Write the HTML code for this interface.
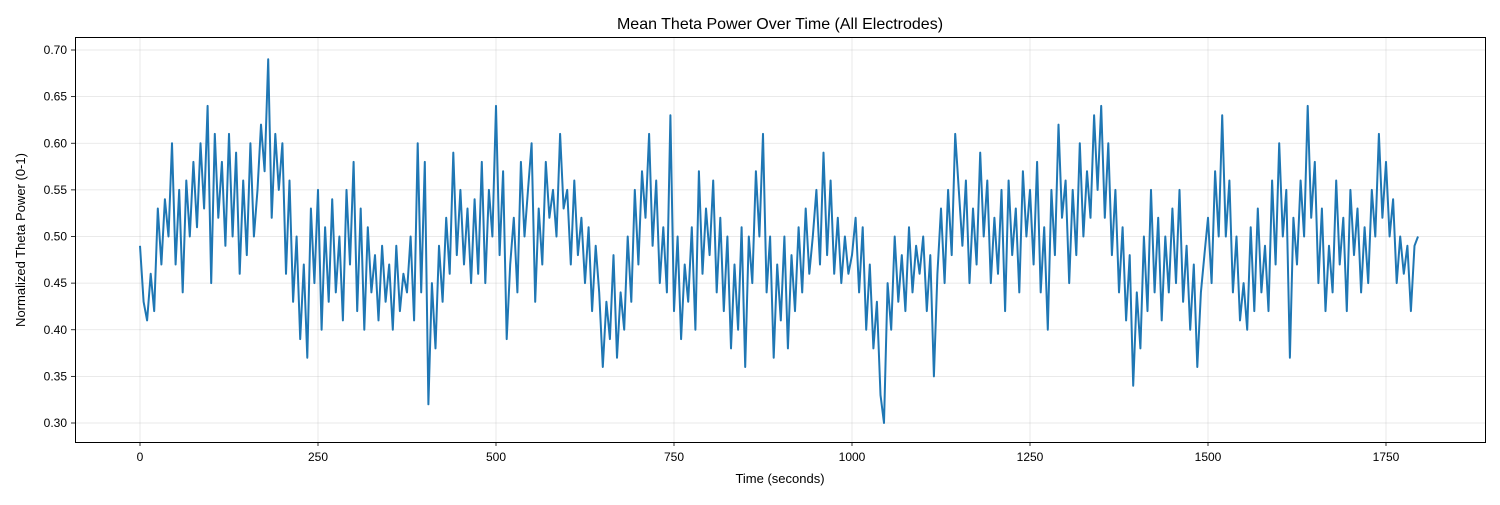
<!DOCTYPE html>
<html><head><meta charset="utf-8"><style>
body{margin:0;background:#fff;}
svg text{font-family:"Liberation Sans","DejaVu Sans",sans-serif;fill:#000;}
</style></head><body>
<svg id="chart" width="1500" height="500" xmlns="http://www.w3.org/2000/svg">
<text x="780" y="29" text-anchor="middle" font-size="16">Mean Theta Power Over Time (All Electrodes)</text>
<g id="grid"></g><g id="ticks"></g>
<path id="line" fill="none" stroke="#1f77b4" stroke-width="2" stroke-linejoin="round"/>
<rect x="75.5" y="37.5" width="1410" height="405" fill="none" stroke="#000" stroke-width="1"/>
<text x="780" y="483" text-anchor="middle" font-size="13">Time (seconds)</text>
<text transform="translate(25,240) rotate(-90)" text-anchor="middle" font-size="13">Normalized Theta Power (0-1)</text>
</svg>
<script>
const timeStep = 5;
const values = [
0.49,0.43,0.41,0.46,0.42,0.53,0.47,0.54,0.50,0.60,
0.47,0.55,0.44,0.56,0.50,0.58,0.51,0.60,0.53,0.64,
0.45,0.61,0.52,0.58,0.49,0.61,0.50,0.59,0.46,0.56,
0.48,0.60,0.50,0.55,0.62,0.57,0.69,0.52,0.61,0.55,
0.60,0.46,0.56,0.43,0.50,0.39,0.47,0.37,0.53,0.45,
0.55,0.40,0.51,0.43,0.54,0.44,0.50,0.41,0.55,0.47,
0.58,0.42,0.53,0.40,0.51,0.44,0.48,0.41,0.49,0.43,
0.47,0.40,0.49,0.42,0.46,0.44,0.50,0.41,0.60,0.44,
0.58,0.32,0.45,0.38,0.49,0.43,0.52,0.46,0.59,0.48,
0.55,0.47,0.53,0.45,0.54,0.46,0.58,0.45,0.55,0.50,
0.64,0.48,0.57,0.39,0.47,0.52,0.44,0.58,0.50,0.55,
0.60,0.43,0.53,0.47,0.58,0.52,0.55,0.50,0.61,0.53,
0.55,0.47,0.56,0.48,0.52,0.45,0.51,0.42,0.49,0.44,
0.36,0.43,0.39,0.48,0.37,0.44,0.40,0.50,0.43,0.55,
0.47,0.57,0.52,0.61,0.49,0.56,0.45,0.51,0.44,0.63,
0.42,0.50,0.39,0.47,0.43,0.51,0.40,0.57,0.46,0.53,
0.48,0.56,0.44,0.52,0.42,0.50,0.38,0.47,0.40,0.51,
0.36,0.50,0.45,0.57,0.50,0.61,0.44,0.50,0.37,0.47,
0.41,0.50,0.38,0.48,0.42,0.51,0.44,0.53,0.46,0.50,
0.55,0.47,0.59,0.48,0.56,0.46,0.52,0.45,0.50,0.46,
0.48,0.52,0.44,0.51,0.40,0.47,0.38,0.43,0.33,0.30,
0.45,0.40,0.50,0.43,0.48,0.42,0.51,0.44,0.49,0.46,
0.50,0.42,0.48,0.35,0.46,0.53,0.45,0.55,0.48,0.61,
0.55,0.49,0.56,0.45,0.53,0.47,0.59,0.50,0.56,0.45,
0.52,0.46,0.55,0.42,0.56,0.48,0.53,0.44,0.57,0.50,
0.55,0.47,0.58,0.44,0.51,0.40,0.55,0.48,0.62,0.52,
0.56,0.45,0.55,0.48,0.60,0.50,0.57,0.52,0.63,0.55,
0.64,0.52,0.60,0.48,0.55,0.44,0.51,0.41,0.48,0.34,
0.44,0.38,0.50,0.42,0.55,0.44,0.52,0.41,0.50,0.44,
0.53,0.45,0.55,0.43,0.49,0.40,0.47,0.36,0.44,0.48,
0.52,0.45,0.57,0.50,0.63,0.50,0.56,0.44,0.50,0.41,
0.45,0.40,0.51,0.42,0.53,0.44,0.49,0.42,0.56,0.47,
0.60,0.50,0.55,0.37,0.52,0.47,0.56,0.50,0.64,0.52,
0.58,0.45,0.53,0.42,0.49,0.44,0.56,0.47,0.52,0.42,
0.55,0.48,0.53,0.44,0.51,0.45,0.55,0.50,0.61,0.52,
0.58,0.50,0.54,0.45,0.50,0.46,0.49,0.42,0.49,0.50];
const xTicks = [0,250,500,750,1000,1250,1500,1750];
const yTicks = [0.30,0.35,0.40,0.45,0.50,0.55,0.60,0.65,0.70];

const NS='http://www.w3.org/2000/svg';
const xs = t => 140 + t*(1386-140)/1750;
const ys = v => 50 + (0.70 - v)*(423-50)/0.40;
const grid=document.getElementById('grid'), ticks=document.getElementById('ticks');
function mk(tag,attrs,parent){const e=document.createElementNS(NS,tag);for(const k in attrs)e.setAttribute(k,attrs[k]);parent.appendChild(e);return e;}
xTicks.forEach(t=>{
  const x=xs(t);
  const g=mk('line',{x1:x,x2:x,y1:37,y2:442,stroke:'#b0b0b0','stroke-opacity':0.35,'stroke-width':0.8},grid);
  
  
  mk('line',{x1:x,x2:x,y1:442,y2:446,stroke:'#000','stroke-width':0.8},ticks);
  const l=mk('text',{x:x,y:461,'text-anchor':'middle','font-size':12},ticks);
  l.textContent=t;
  
  
});
yTicks.forEach(v=>{
  const y=ys(v);
  const g=mk('line',{x1:75,x2:1485,y1:y,y2:y,stroke:'#b0b0b0','stroke-opacity':0.35,'stroke-width':0.8},grid);
  
  
  mk('line',{x1:71,x2:75,y1:y,y2:y,stroke:'#000','stroke-width':0.8},ticks);
  const l=mk('text',{x:67,y:y+4,'text-anchor':'end','font-size':12},ticks);
  l.textContent=v.toFixed(2);
  
  
});
document.getElementById('line').setAttribute('d',values.map((v,i)=>(i?'L':'M')+xs(i*timeStep).toFixed(1)+','+ys(v).toFixed(1)).join(''));
</script>
</body></html>
